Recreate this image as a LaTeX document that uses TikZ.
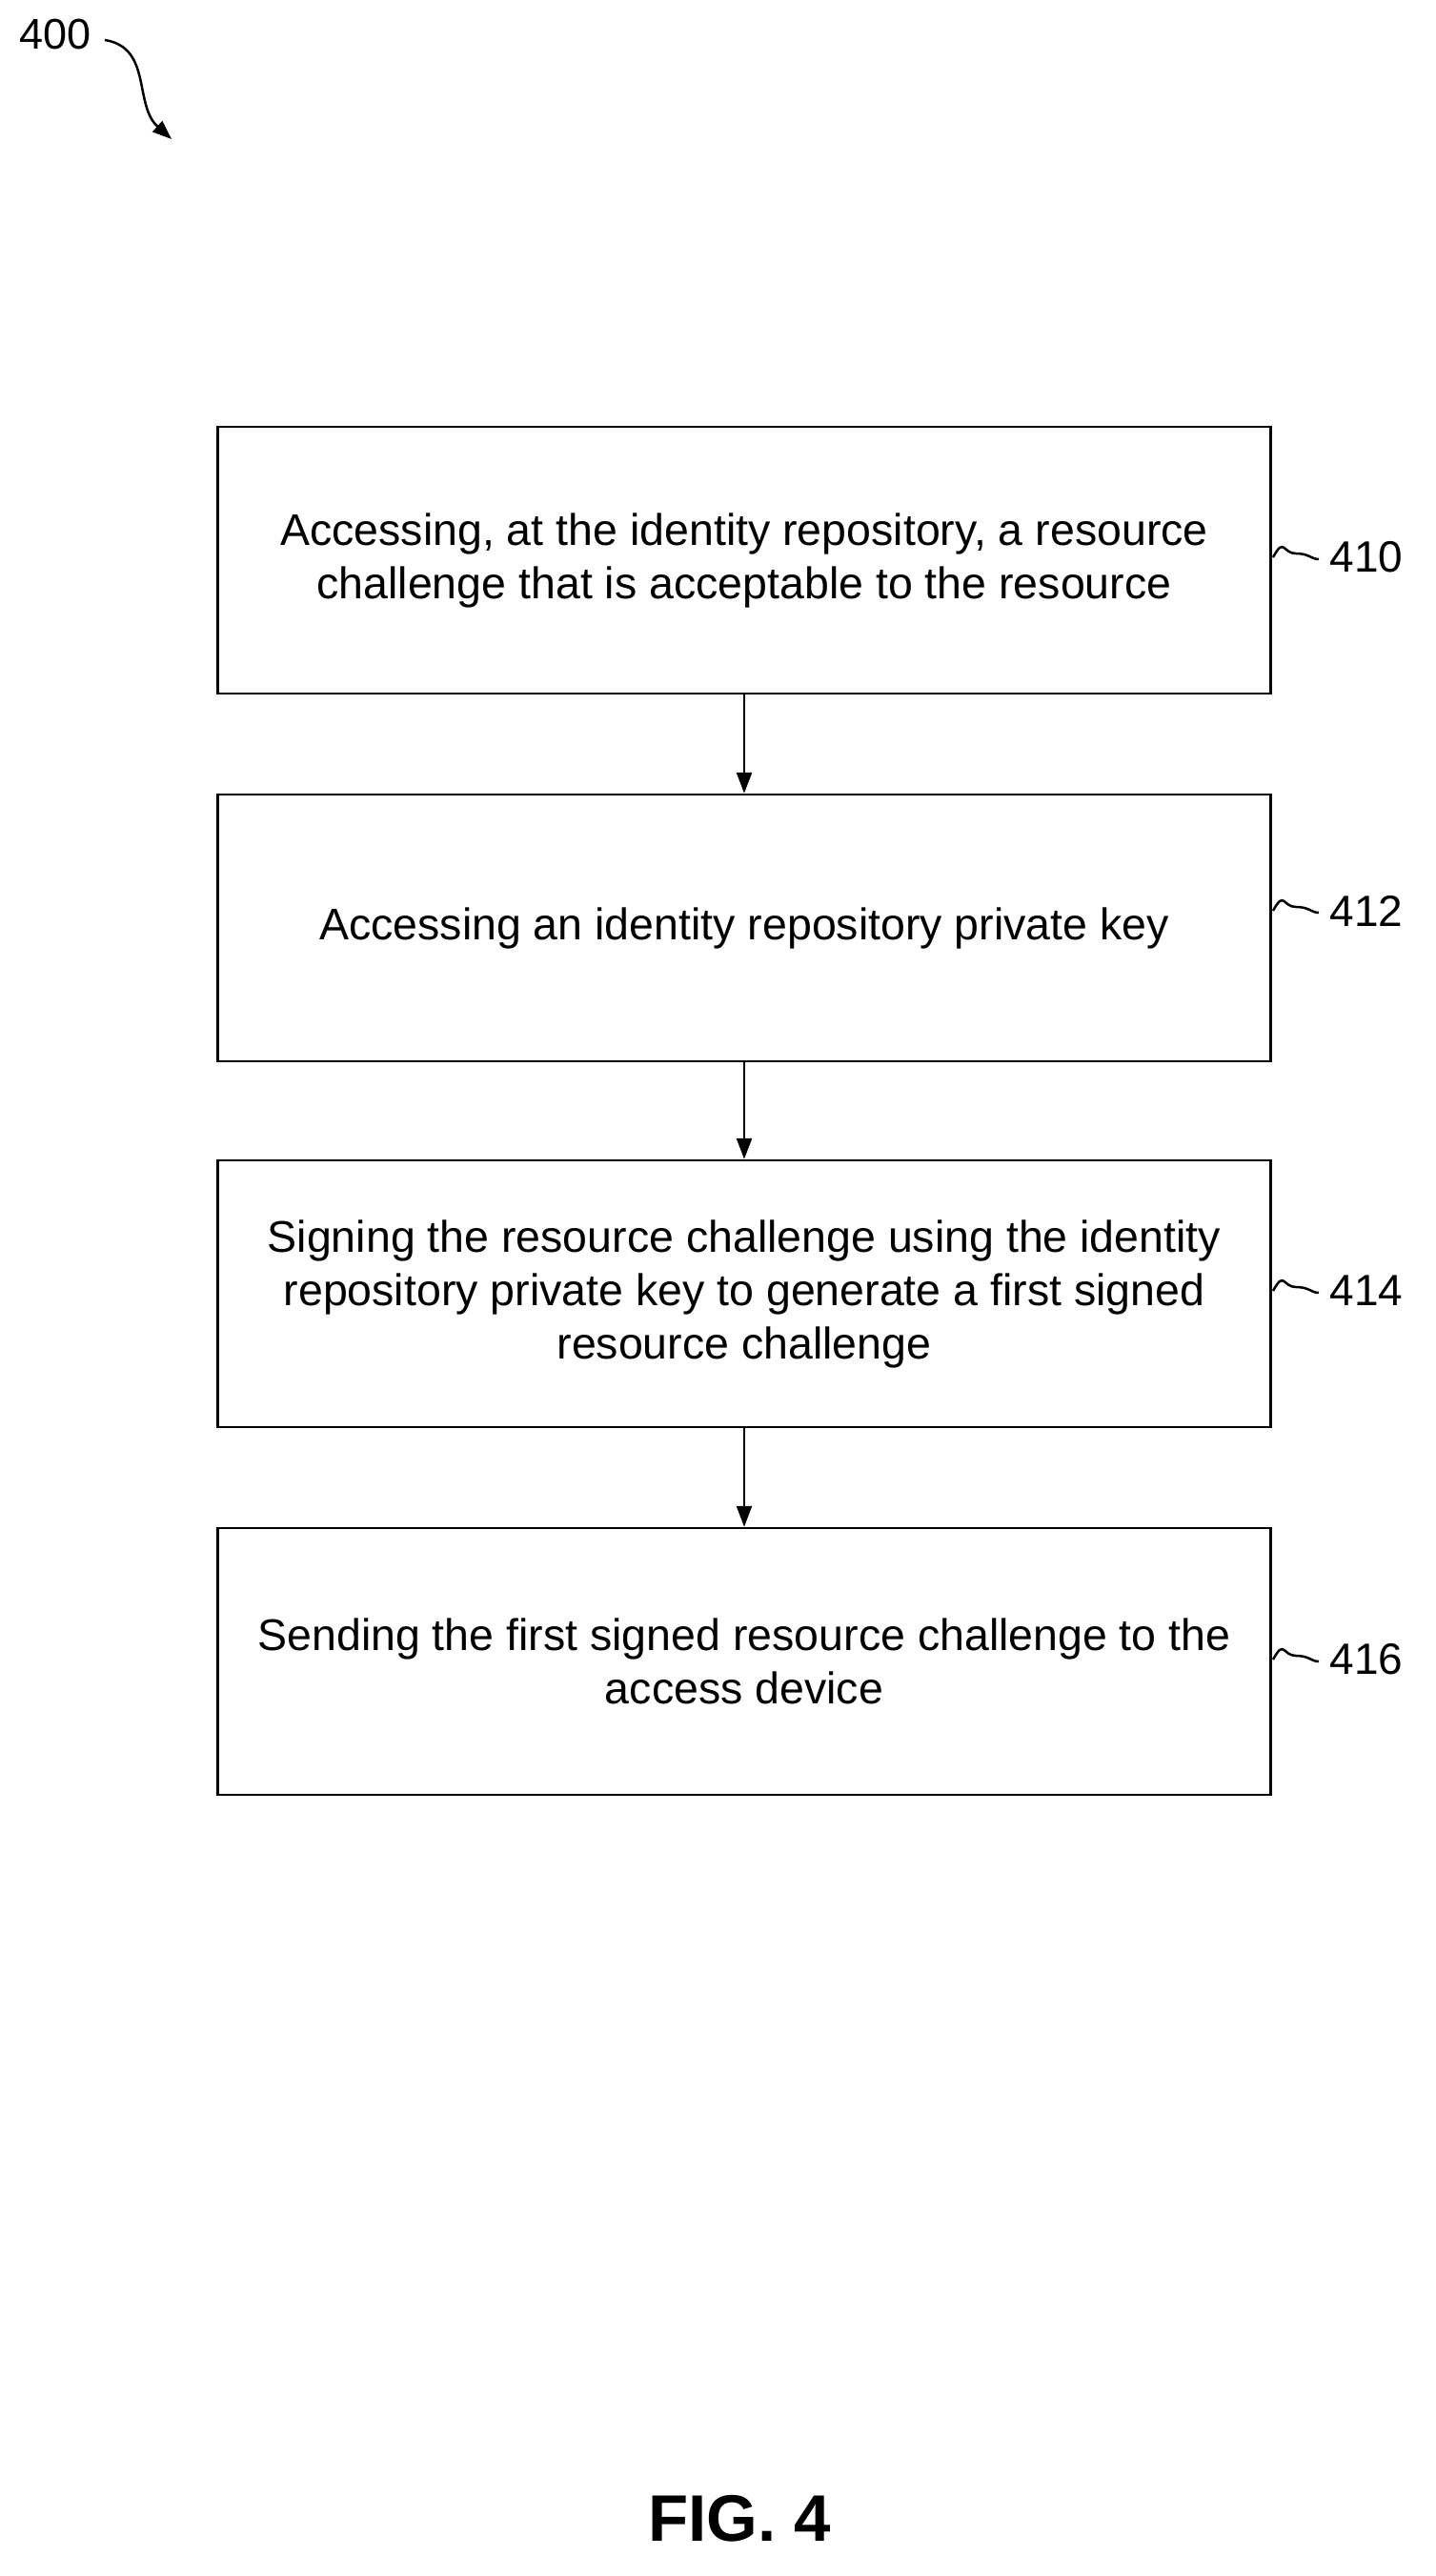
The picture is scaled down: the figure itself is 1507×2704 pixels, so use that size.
\documentclass[tikz,border=0pt]{standalone}
\usepackage{fontspec}
\setmainfont{Liberation Sans}
\usetikzlibrary{arrows.meta}
\begin{document}
\begin{tikzpicture}[x=1pt,y=-1pt,
  box/.style={draw,line width=2.5pt,minimum width=1105pt,minimum height=280pt,align=center,font=\fontsize{46.5}{56}\selectfont,inner sep=0pt},
  lbl/.style={font=\fontsize{46}{52}\selectfont,anchor=west},
  arr/.style={line width=2.5pt,-{Triangle[length=22pt,width=16pt]}},
  sq/.style={line width=2.5pt}]
\useasboundingbox (0,0) rectangle (1507,2704);
\node[box] (b1) at (781,588) {Accessing, at the identity repository, a resource\\challenge that is acceptable to the resource};
\node[box] (b2) at (781,974) {Accessing an identity repository private key};
\node[box] (b3) at (781,1358) {Signing the resource challenge using the identity\\repository private key to generate a first signed\\resource challenge};
\node[box] (b4) at (781,1744) {Sending the first signed resource challenge to the\\access device};
\draw[arr] (b1.south) -- (b2.north);
\draw[arr] (b2.south) -- (b3.north);
\draw[arr] (b3.south) -- (b4.north);
\foreach \b/\n/\y in {b1/410/585,b2/412/956,b3/414/1355,b4/416/1742}{
  \coordinate (s\n) at (1336,\y);
  \draw[sq] (s\n) .. controls +(12,-22) and +(-14,0) .. ++(24,-4) .. controls +(14,0) and +(-8,0) .. ++(24,6);
  \node[lbl] (l\n) at (1392,\y) {\n};
}
\node[font=\fontsize{45}{52}\selectfont] (n400) at (58,36) {400};
\coordinate (a0) at (110,42);
\coordinate (a1) at (180,146);
\draw[line width=2.5pt,-{Triangle[length=20pt,width=15pt]}] (a0) .. controls (160,50) and (140,110) .. (a1);
\node[font=\bfseries\fontsize{69}{80}\selectfont] (fig) at (776,2644) {FIG. 4};
\end{tikzpicture}
\end{document}
